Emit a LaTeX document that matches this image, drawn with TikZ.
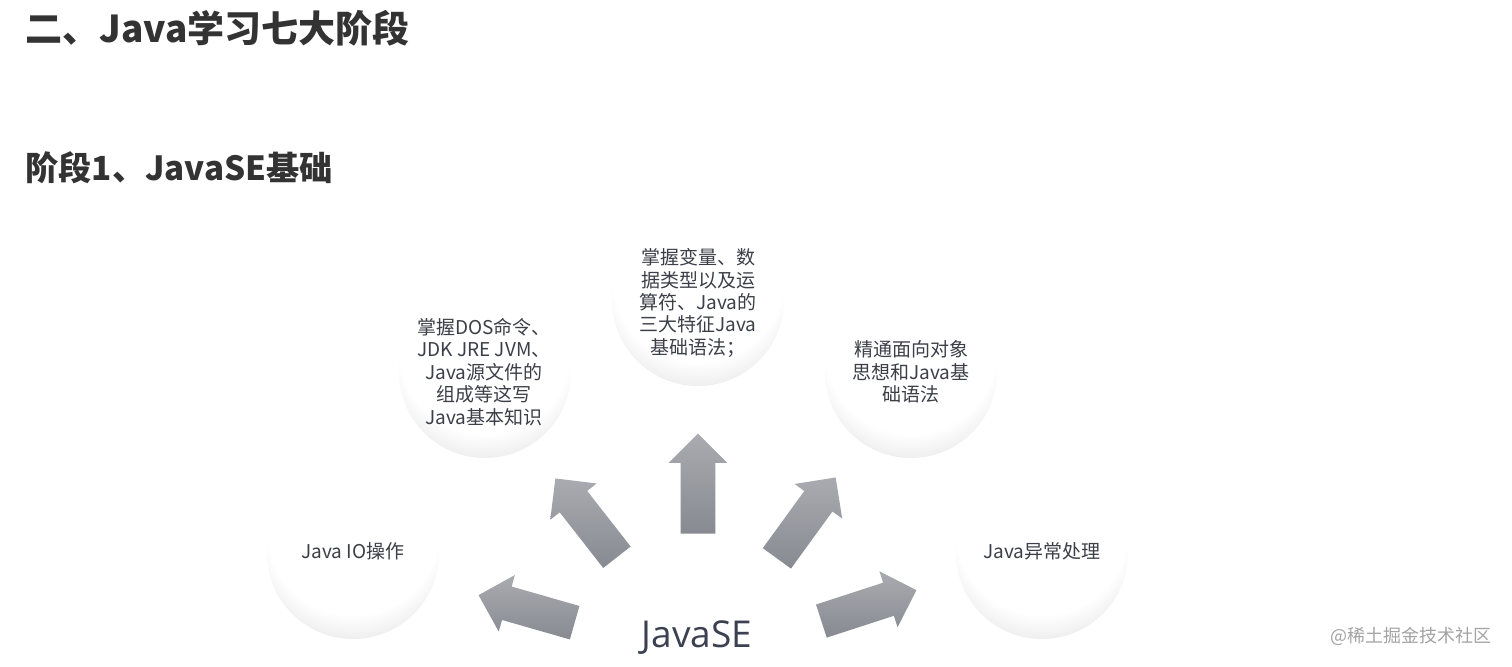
\documentclass[tikz,border=0pt]{standalone}
\usepackage{fontspec}
\setmainfont{Noto Sans CJK SC}
\newfontfamily\osans{Open Sans}
\usetikzlibrary{shapes.arrows}
\definecolor{txt}{HTML}{333333}
\definecolor{ctxt}{HTML}{3C3F47}
\definecolor{bigtxt}{HTML}{3B4150}
\definecolor{wm}{HTML}{A3A3A3}
\definecolor{ballmid}{HTML}{EAEAEC}
\definecolor{ballrim}{HTML}{C6C7CB}
\definecolor{arrL}{HTML}{A9ABB0}
\definecolor{arrD}{HTML}{878A91}
\pgfdeclareradialshading{ballshade}{\pgfpoint{0bp}{14bp}}{color(0bp)=(white); color(25bp)=(white); color(32bp)=(ballmid); color(39bp)=(ballrim); color(50bp)=(ballrim)}
\tikzset{
  heading/.style={anchor=west, text=txt, font=\bfseries\fontsize{18.5}{22}\selectfont, inner sep=0pt},
  heading2/.style={heading, font=\bfseries\fontsize{16.6}{20}\selectfont},
  ball/.style={circle, minimum size=86pt, inner sep=0pt, draw=none, shading=ballshade},
  balltext/.style={align=center, text=ctxt, font=\fontsize{9.5}{11.2}\selectfont, inner sep=0pt},
  arrowblk/.style={single arrow, draw=none, minimum height=50pt, minimum width=29pt, single arrow head extend=6pt, inner xsep=0pt, inner ysep=8.5pt, top color=arrL, bottom color=arrD, anchor=tip},
}
\begin{document}
\begin{tikzpicture}[x=0.5pt, y=-0.5pt]
\useasboundingbox (0,0) rectangle (1512,667);
\fill[white] (0,0) rectangle (1512,667);
% headings
\node[heading] (h1) at (25,28) {二、Java学习七大阶段};
\node[heading2] (h2) at (25,168) {阶段1、JavaSE基础};
% circles
\node[ball] (io) at (353,553) {};
\node[ball] (dos) at (485,372) {};
\node[ball] (basic) at (698,300) {};
\node[ball] (oop) at (911,372) {};
\node[ball] (exc) at (1042,553) {};
% circle texts
\node[balltext] (tio) at (353,551) {Java IO操作};
\node[balltext] (tdos) at (484,372) {掌握DOS命令、\\JDK JRE JVM、\\Java源文件的\\组成等这写\\Java基本知识};
\node[balltext] (tbasic) at (698,303) {掌握变量、数\\据类型以及运\\算符、Java的\\三大特征Java\\基础语法；};
\node[balltext] (toop) at (911,372) {精通面向对象\\思想和Java基\\础语法};
\node[balltext] (texc) at (1042,551) {Java异常处理};
% arrows (placed by their tips)
\node[arrowblk, rotate=164] (a1) at (478,595) {};
\node[arrowblk, rotate=128] (a2) at (555,478) {};
\node[arrowblk, rotate=90] (a3) at (698,433) {};
\node[arrowblk, rotate=54] (a4) at (836,477) {};
\node[arrowblk, rotate=18] (a5) at (917,590) {};
% center label
\node[text=bigtxt, font=\osans\fontsize{18.5}{22}\selectfont, inner sep=0pt] (se) at (697,638) {JavaSE};
% watermark
\node[text=wm, font=\fontsize{9}{11}\selectfont, inner sep=0pt] (wmk) at (1411,636) {@稀土掘金技术社区};
\end{tikzpicture}
\end{document}
